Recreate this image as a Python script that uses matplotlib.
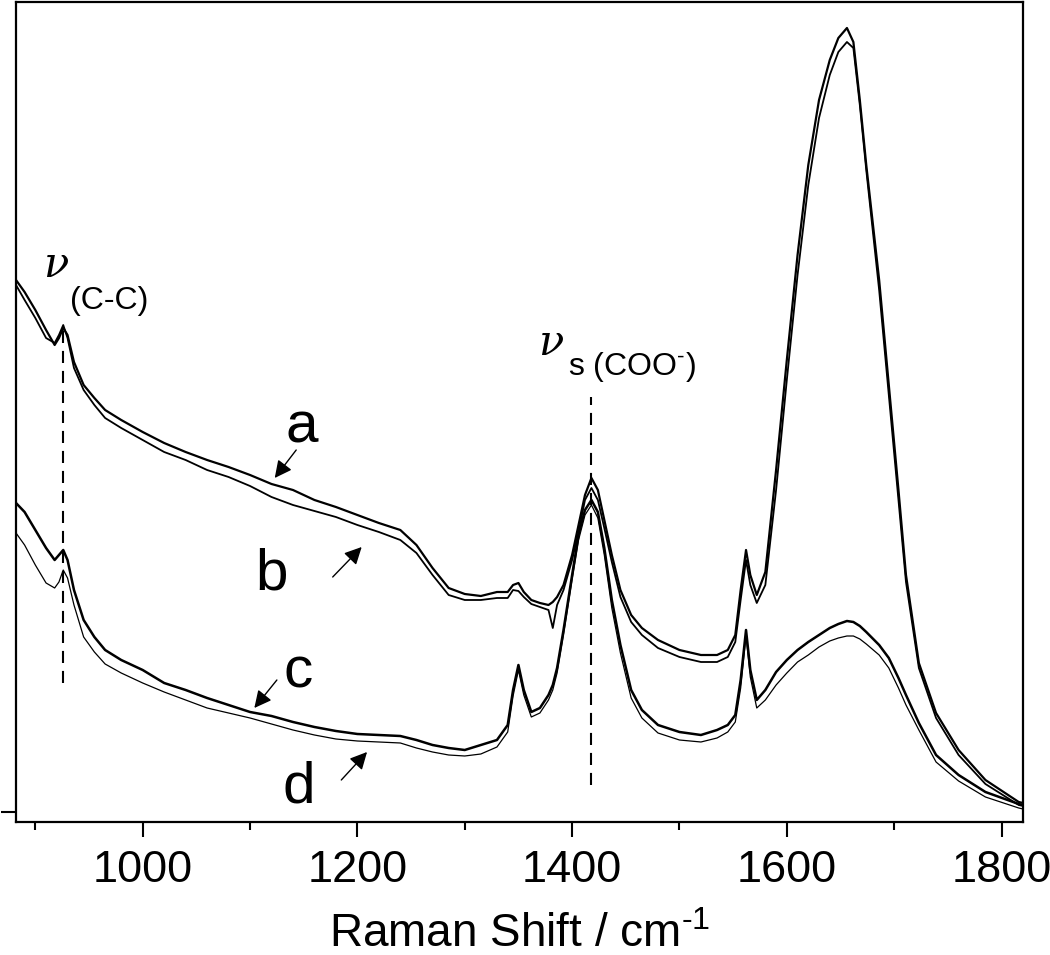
import numpy as np
import matplotlib
matplotlib.use("Agg")
import matplotlib.pyplot as plt

plt.rcParams['font.family'] = ['Liberation Sans', 'DejaVu Sans']
plt.rcParams['mathtext.fontset'] = 'custom'
plt.rcParams['mathtext.rm'] = 'Liberation Sans'
plt.rcParams['mathtext.it'] = 'Liberation Sans:italic'

# Raman shift (cm-1)
wn = [882, 890, 900, 910, 918, 922, 926, 930, 936, 945, 955, 965, 980, 1000,
      1020, 1040, 1060, 1080, 1100, 1120, 1140, 1160, 1180, 1200, 1220, 1240,
      1255, 1270, 1285, 1300, 1315, 1330, 1340, 1345, 1350, 1355, 1362, 1370,
      1378, 1382, 1386, 1392, 1400, 1406, 1412, 1418, 1424, 1430, 1437, 1445,
      1455, 1465, 1480, 1500, 1520, 1535, 1545, 1552, 1557, 1562, 1566, 1572,
      1580, 1590, 1600, 1610, 1620, 1630, 1640, 1648, 1656, 1662, 1668, 1674,
      1686, 1695, 1704, 1711, 1723, 1739, 1760, 1785, 1816, 1820]

# intensities (arb. units, offset spectra)
spec_a = [532, 520, 502, 482, 467, 474, 484, 477, 450, 427, 414, 402, 392, 380,
          369, 360, 352, 345, 337, 328, 322, 312, 305, 297, 289, 282,
          267, 244, 224, 218, 216, 220, 220, 227, 229, 220, 212, 209,
          207, 210, 215, 227, 257, 287, 317, 334, 322, 292, 257, 222,
          197, 184, 172, 162, 157, 157, 162, 177, 222, 262, 237, 217,
          240, 342, 452, 557, 647, 712, 752, 774, 784, 770, 712, 647,
          532, 427, 322, 237, 149, 99, 62, 32, 10, 9]
spec_b = [527, 512, 494, 474, 469, 477, 487, 474, 444, 422, 407, 394, 384, 372,
          360, 352, 342, 335, 326, 315, 307, 301, 295, 287, 280, 272,
          259, 237, 217, 212, 212, 214, 214, 222, 221, 215, 208, 205,
          202, 184, 207, 222, 252, 280, 312, 324, 312, 284, 250, 215,
          190, 177, 164, 155, 150, 150, 155, 170, 212, 252, 227, 209,
          227, 322, 432, 537, 627, 694, 737, 760, 770, 764, 707, 642,
          522, 417, 312, 230, 144, 94, 57, 28, 7, 6]
spec_c = [309, 300, 282, 264, 252, 257, 262, 252, 222, 192, 175, 162, 152, 142,
          129, 122, 114, 107, 100, 96, 90, 85, 81, 78, 77, 76,
          72, 67, 64, 62, 67, 72, 87, 122, 147, 122, 100, 104,
          117, 127, 144, 182, 237, 277, 302, 312, 300, 264, 212, 167,
          122, 102, 87, 80, 77, 82, 87, 97, 132, 182, 142, 112,
          122, 140, 152, 162, 170, 177, 184, 188, 191, 190, 186, 180,
          167, 154, 134, 117, 89, 57, 37, 20, 8, 7]
spec_d = [279, 267, 247, 229, 224, 230, 242, 234, 207, 175, 160, 148, 139, 129,
          120, 112, 104, 99, 94, 88, 82, 77, 73, 71, 70, 69,
          64, 60, 57, 56, 58, 65, 80, 116, 142, 117, 95, 99,
          112, 122, 139, 177, 232, 272, 297, 307, 294, 257, 204, 159,
          114, 94, 79, 72, 70, 74, 80, 90, 124, 176, 135, 104,
          112, 127, 139, 150, 157, 165, 171, 174, 176, 176, 173, 168,
          157, 144, 124, 107, 82, 50, 31, 15, 4, 3]

# band markers
band_pos = [926, 1418]
band_ymin = [129, 27]
band_ymax = [487, 415]

fig = plt.figure(figsize=(10.5, 9.55), dpi=100)
ax = fig.add_axes([0.01524, 0.13927, 0.95905, 0.85864])

ax.plot(wn, spec_a, color='black', lw=1.6)
ax.plot(wn, spec_b, color='black', lw=1.3)
ax.plot(wn, spec_c, color='black', lw=1.8)
ax.plot(wn, spec_d, color='black', lw=0.9)

for x, y0, y1 in zip(band_pos, band_ymin, band_ymax):
    ax.plot([x, x], [y0, y1], color='black', lw=1.5, ls=(0, (5.8, 3.8)))

ax.set_xlim(882, 1820)
ax.set_ylim(-10, 810)

ax.set_xticks([1000, 1200, 1400, 1600, 1800])
ax.set_xticks([900, 1100, 1300, 1500, 1700], minor=True)
ax.set_yticks([0])
ax.set_yticklabels([])
ax.tick_params(axis='x', which='major', length=11, width=1.5, labelsize=32.5, pad=9)
ax.tick_params(axis='x', which='minor', length=6, width=1.5)
ax.tick_params(axis='y', which='major', length=11, width=1.5)
for sp in ax.spines.values():
    sp.set_linewidth(1.6)

ax.set_xlabel('Raman Shift / cm$^{\u2010 1}$', fontsize=33, labelpad=16)

# band labels
ax.text(907, 535, 'ν', family='DejaVu Serif', style='italic', fontsize=30, va='baseline')
ax.text(932, 503, '(C-C)', fontsize=23, va='baseline')
ax.text(1368, 457, 'ν', family='DejaVu Serif', style='italic', fontsize=30, va='baseline')
ax.text(1396, 437, 's (COO$^{\u2010}$)', fontsize=23, va='baseline')

# curve labels with arrows
curve_names = ['a', 'b', 'c', 'd']
label_xy = [(1148, 369), (1120, 222), (1145, 124), (1145, 9)]
arrow_tail = [(1143, 362), (1177, 235), (1125, 132), (1185, 32)]
arrow_head = [(1123, 334), (1204, 265), (1104, 104), (1209, 60)]
for name, (lx, ly), tail, head in zip(curve_names, label_xy, arrow_tail, arrow_head):
    ax.text(lx, ly, name, fontsize=42, ha='center', va='baseline')
    ax.annotate('', xy=head, xytext=tail,
                arrowprops=dict(arrowstyle='-|>', color='black', lw=1.0,
                                mutation_scale=26, shrinkA=0, shrinkB=0))

fig.savefig('out.png', dpi=100)
